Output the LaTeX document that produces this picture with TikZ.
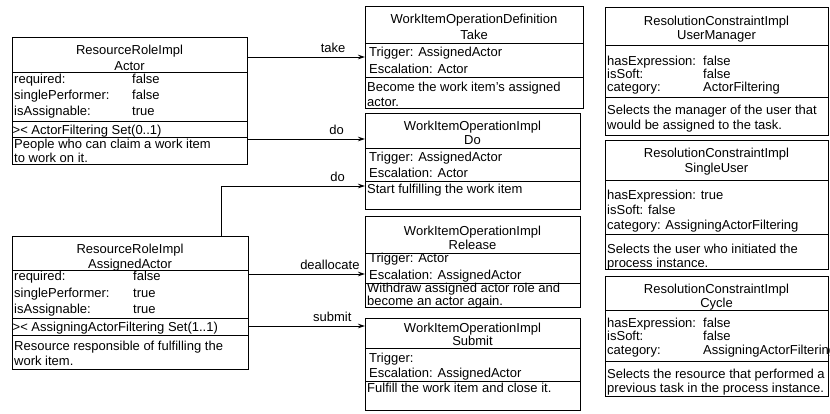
\documentclass[tikz,border=0pt]{standalone}
\usepackage{fontspec}
\setmainfont{Liberation Sans}
\usetikzlibrary{arrows.meta}

\newcommand{\attrrow}[3]{\makebox[#1][l]{#2}#3}

\begin{document}
\begin{tikzpicture}[x=1pt,y=-1pt,
    umlbox/.style={draw, line width=1pt, anchor=north west, inner sep=0pt},
    sep/.style={line width=0.8pt},
    txt/.style={font=\fontsize{13}{#1}\selectfont, inner sep=0pt, align=left, anchor=base west},
    txt/.default=15,
    head/.style={font=\fontsize{13}{#1}\selectfont, inner sep=0pt, align=center, anchor=base},
    head/.default=15,
    conn/.style={line width=0.8pt, -{Stealth[length=7pt,width=4.5pt]}},
    lbl/.style={font=\fontsize{13}{15}\selectfont, inner sep=0pt, anchor=base, yshift=4.5pt}]
    \useasboundingbox (0,0) rectangle (830,413);

    % resource roles (text nodes sit on the baseline of their last line)
    \node[umlbox, minimum width=235pt, minimum height=127pt] (actor) at (12,37) {};
    \foreach \y in {72,121,137} \draw[sep] (12,\y) -- (247,\y);
    \node[head=16] (actorName) at (129.5,70) {ResourceRoleImpl\\Actor};
    \node[txt=16] (actorAttr) at (14,115) {\attrrow{118pt}{required:}{false}\\
        \attrrow{118pt}{singlePerformer:}{false}\\\attrrow{118pt}{isAssignable:}{true}};
    \node[txt] (actorFilter) at (12.5,134) {>< ActorFiltering Set(0..1)};
    \node[txt=14] (actorDesc) at (14,162.5) {People who can claim a work item\\to work on it.};

    \node[umlbox, minimum width=236pt, minimum height=133pt] (assigned) at (12,236) {};
    \foreach \y in {270,318,335} \draw[sep] (12,\y) -- (248,\y);
    \node[head=15] (assignedName) at (130,268.5) {ResourceRoleImpl\\AssignedActor};
    \node[txt=16.5] (assignedAttr) at (14,313.5) {\attrrow{119pt}{required:}{false}\\
        \attrrow{119pt}{singlePerformer:}{true}\\\attrrow{119pt}{isAssignable:}{true}};
    \node[txt] (assignedFilter) at (12.5,331) {>< AssigningActorFiltering Set(1..1)};
    \node[txt=15] (assignedDesc) at (14,365) {Resource responsible of fulfilling the\\work item.};

    % work item operations
    \node[umlbox, minimum width=218pt, minimum height=102pt] (take) at (365,6) {};
    \foreach \y in {43,77} \draw[sep] (365,\y) -- (583,\y);
    \node[head=16] (takeName) at (474,39) {WorkItemOperationDefinition\\Take};
    \node[txt=17] (takeAttr) at (369,73) {Trigger: AssignedActor\\Escalation: Actor};
    \node[txt=15] (takeDesc) at (367,106) {Become the work item's assigned\\actor.};

    \node[umlbox, minimum width=215pt, minimum height=96pt] (do) at (365,113) {};
    \foreach \y in {148,181} \draw[sep] (365,\y) -- (580,\y);
    \node[head=14] (doName) at (472.5,144.5) {WorkItemOperationImpl\\Do};
    \node[txt=16] (doAttr) at (369,177.5) {Trigger: AssignedActor\\Escalation: Actor};
    \node[txt] (doDesc) at (367,193) {Start fulfilling the work item};

    \node[umlbox, minimum width=215pt, minimum height=91pt] (release) at (365,216) {};
    \foreach \y in {253,283} \draw[sep] (365,\y) -- (580,\y);
    \node[head=13.5] (releaseName) at (472.5,249) {WorkItemOperationImpl\\Release};
    \node[txt=17.5] (releaseAttr) at (369,279.5) {Trigger: Actor\\Escalation: AssignedActor};
    \node[txt=13.5] (releaseDesc) at (367,305.5) {Withdraw assigned actor role and\\become an actor again.};

    \node[umlbox, minimum width=215pt, minimum height=92pt] (submit) at (365,318) {};
    \foreach \y in {348,381} \draw[sep] (365,\y) -- (580,\y);
    \node[head=13] (submitName) at (472.5,345) {WorkItemOperationImpl\\Submit};
    \node[txt=15] (submitAttr) at (369,377) {Trigger:\\Escalation: AssignedActor};
    \node[txt] (submitDesc) at (367,392) {Fulfill the work item and close it.};

    % resolution constraints
    \node[umlbox, minimum width=223pt, minimum height=128pt] (manager) at (605,7) {};
    \foreach \y in {45,97} \draw[sep] (605,\y) -- (828,\y);
    \node[head=14] (managerName) at (716.5,39) {ResolutionConstraintImpl\\UserManager};
    \node[txt=12.8] (managerAttr) at (607,91) {\attrrow{96pt}{hasExpression:}{false}\\
        \attrrow{96pt}{isSoft:}{false}\\\attrrow{96pt}{category:}{ActorFiltering}};
    \node[txt=14.5] (managerDesc) at (607,129) {Selects the manager of the user that\\would be assigned to the task.};

    \node[umlbox, minimum width=223pt, minimum height=129pt] (single) at (605,140) {};
    \foreach \y in {180,234} \draw[sep] (605,\y) -- (828,\y);
    \node[head=15] (singleName) at (716.5,172.5) {ResolutionConstraintImpl\\SingleUser};
    \node[txt=15] (singleAttr) at (607,229.5) {hasExpression: true\\isSoft: false\\category: AssigningActorFiltering};
    \node[txt=14] (singleDesc) at (607,267.5) {Selects the user who initiated the\\process instance.};

    \node[umlbox, minimum width=223pt, minimum height=120pt] (cycle) at (605,276) {};
    \foreach \y in {310,361} \draw[sep] (605,\y) -- (828,\y);
    \node[head=14] (cycleName) at (716.5,307) {ResolutionConstraintImpl\\Cycle};
    \node[txt=13.5] (cycleAttr) at (607,354) {\attrrow{96pt}{hasExpression:}{false}\\
        \attrrow{96pt}{isSoft:}{false}\\\attrrow{96pt}{category:}{AssigningActorFiltering}};
    \node[txt=14.5] (cycleDesc) at (607,392.5) {Selects the resource that performed a\\previous task in the process instance.};

    % operations of the roles
    \coordinate (takeOut) at (247,57);
    \coordinate (doOut) at (247,139);
    \coordinate (doBend) at (221,186);
    \coordinate (releaseOut) at (248,274);
    \coordinate (submitOut) at (248,326);

    \draw[conn] (takeOut) -- node[lbl, pos=.73] (takeLbl) {take} (takeOut -| take.west);
    \draw[conn] (doOut) -- node[lbl, pos=.76] (doLbl) {do} (doOut -| do.west);
    \draw[conn] (doBend |- assigned.north) -- (doBend) -- node[lbl, pos=.81] (doLblB) {do} (doBend -| do.west);
    \draw[conn] (releaseOut) -- node[lbl, pos=.70] (releaseLbl) {deallocate} (releaseOut -| release.west);
    \draw[conn] (submitOut) -- node[lbl, pos=.72] (submitLbl) {submit} (submitOut -| submit.west);
\end{tikzpicture}
\end{document}
